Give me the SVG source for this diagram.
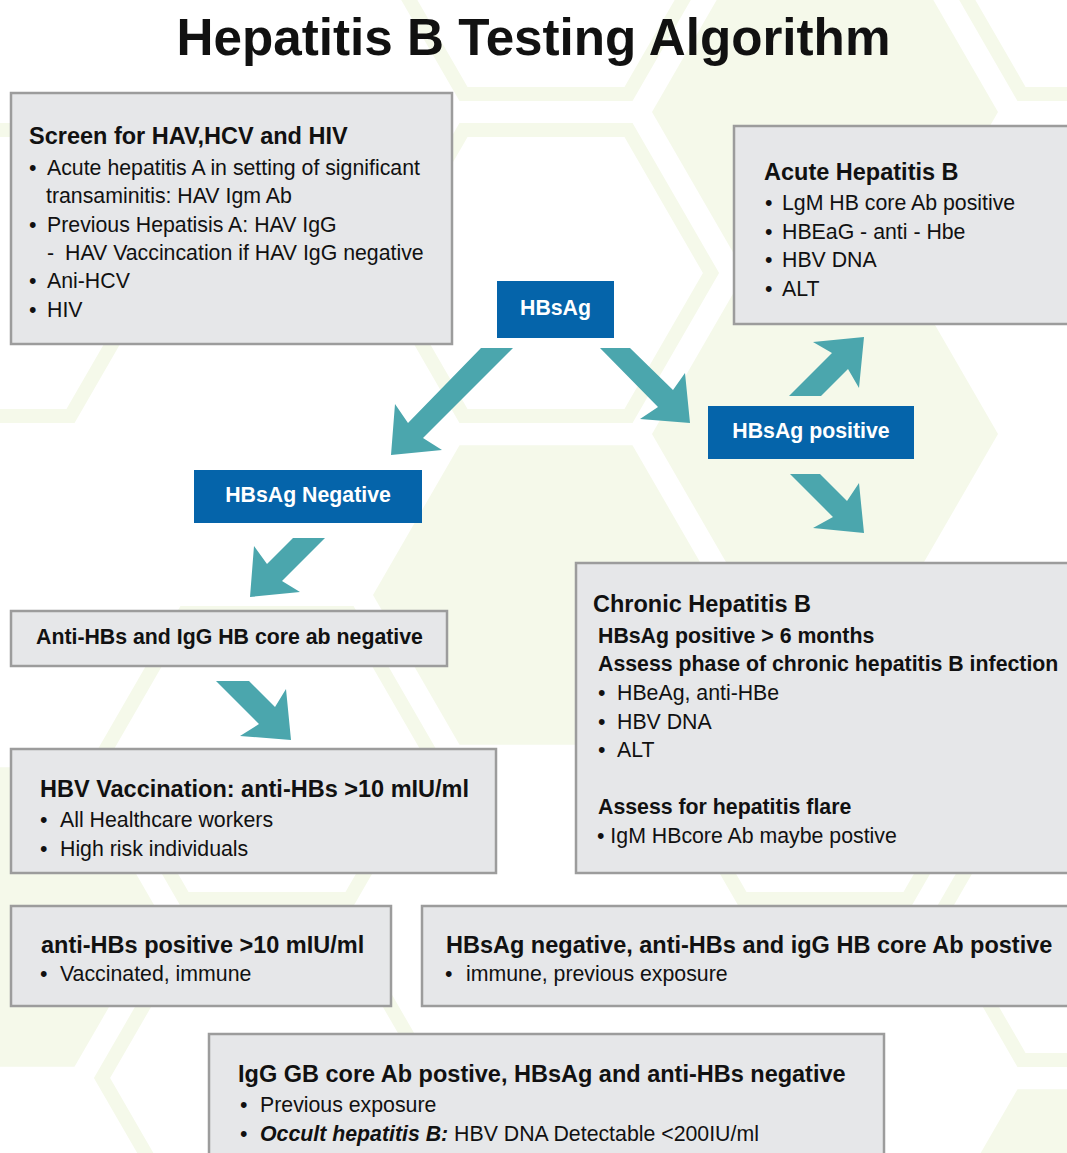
<svg xmlns="http://www.w3.org/2000/svg" xmlns:xlink="http://www.w3.org/1999/xlink" width="1067" height="1153" viewBox="0 0 1067 1153">
<style>
text{font-family:"Liberation Sans",Arial,Helvetica,sans-serif;fill:#111}
.t{font-size:23.5px;font-weight:bold}
.s{font-size:21.3px;font-weight:bold}
.b{font-size:21.3px}
.lbl{font-size:21.3px;font-weight:bold;fill:#fff;text-anchor:middle}
.box{fill:#e6e7e9;stroke:#9c9c9c;stroke-width:2.5}
.blue{fill:#0564aa}
.arr{fill:#4ba6ad}
.hf{fill:#f5f9ea}
.ho{fill:none;stroke:#f5f9ea;stroke-width:14}
</style>
<defs>
<polygon id="hexf" points="-173,0 -86.5,-149.8 86.5,-149.8 173,0 86.5,149.8 -86.5,149.8"/>
<polygon id="hexo" points="-165,0 -82.5,-142.9 82.5,-142.9 165,0 82.5,142.9 -82.5,142.9"/>
</defs>
<rect width="1067" height="1153" fill="#fff"/>
<g id="background">
<use xlink:href="#hexf" class="hf" x="825" y="112"/>
<use xlink:href="#hexf" class="hf" x="825" y="434"/>
<use xlink:href="#hexf" class="hf" x="546" y="595"/>
<use xlink:href="#hexf" class="hf" x="-12" y="917"/>
<use xlink:href="#hexf" class="hf" x="1104" y="1239"/>
<use xlink:href="#hexo" class="ho" x="546" y="-49"/>
<use xlink:href="#hexo" class="ho" x="1104" y="-49"/>
<use xlink:href="#hexo" class="ho" x="546" y="273"/>
<use xlink:href="#hexo" class="ho" x="-12" y="273"/>
<use xlink:href="#hexo" class="ho" x="267" y="756"/>
<use xlink:href="#hexo" class="ho" x="825" y="756"/>
<use xlink:href="#hexo" class="ho" x="1104" y="917"/>
<use xlink:href="#hexo" class="ho" x="267" y="1078"/>
</g>
<text x="533.5" y="55" text-anchor="middle" style="font-size:51.2px;font-weight:bold">Hepatitis B Testing Algorithm</text>
<g id="connectors">
<polygon class="arr" points="481,348 513,348 423,438 442,450 391,455 395,404 408,423"/>
<polygon class="arr" points="293,538 325,538 282,581 300,592 250,597 254,546 267,564"/>
<polygon class="arr" points="216,681 249,681 275,707 286,689 291,740 240,736 259,724"/>
<polygon class="arr" points="600,348 630,348 673,390 685,373 690,423 640,419 658,407"/>
<polygon class="arr" points="789,396 821,396 848,369 859,388 864,337 813,342 832,353"/>
<polygon class="arr" points="790,474 820,474 847,501 859,483 864,533 813,528 833,517"/>
</g>
<g id="screen">
<rect class="box" x="11" y="93" width="441" height="251"/>
<text class="t" x="29" y="144">Screen for HAV,HCV and HIV</text>
<text class="b" x="29" y="175">•</text><text class="b" x="47" y="175">Acute hepatitis A in setting of significant</text>
<text class="b" x="46" y="203">transaminitis: HAV Igm Ab</text>
<text class="b" x="29" y="232">•</text><text class="b" x="47" y="232">Previous Hepatisis A: HAV IgG</text>
<text class="b" x="47" y="260">-</text><text class="b" x="65" y="260">HAV Vaccincation if HAV IgG negative</text>
<text class="b" x="29" y="288">•</text><text class="b" x="47" y="288">Ani-HCV</text>
<text class="b" x="29" y="317">•</text><text class="b" x="47" y="317">HIV</text>
</g>
<g id="acute">
<rect class="box" x="734" y="126" width="345" height="198"/>
<text class="t" x="764" y="180">Acute Hepatitis B</text>
<text class="b" x="765" y="210">•</text><text class="b" x="782" y="210">LgM HB core Ab positive</text>
<text class="b" x="765" y="239">•</text><text class="b" x="782" y="239">HBEaG - anti - Hbe</text>
<text class="b" x="765" y="267">•</text><text class="b" x="782" y="267">HBV DNA</text>
<text class="b" x="765" y="296">•</text><text class="b" x="782" y="296">ALT</text>
</g>
<g id="hbsag">
<rect class="blue" x="497" y="281" width="117" height="57"/>
<text class="lbl" x="555.5" y="315">HBsAg</text>
</g>
<g id="hbsag-positive">
<rect class="blue" x="708" y="406" width="206" height="53"/>
<text class="lbl" x="811" y="438">HBsAg positive</text>
</g>
<g id="hbsag-negative">
<rect class="blue" x="194" y="470" width="228" height="53"/>
<text class="lbl" x="308" y="502">HBsAg Negative</text>
</g>
<g id="anti-hbs-negative">
<rect class="box" x="11" y="611" width="436" height="55"/>
<text class="s" x="36" y="644">Anti-HBs and IgG HB core ab negative</text>
</g>
<g id="hbv-vaccination">
<rect class="box" x="11" y="749" width="485" height="124"/>
<text class="t" x="40" y="797">HBV Vaccination: anti-HBs &gt;10 mIU/ml</text>
<text class="b" x="40" y="827">•</text><text class="b" x="60" y="827">All Healthcare workers</text>
<text class="b" x="40" y="856">•</text><text class="b" x="60" y="856">High risk individuals</text>
</g>
<g id="chronic">
<rect class="box" x="576" y="563" width="500" height="310"/>
<text class="t" x="593" y="612">Chronic Hepatitis B</text>
<text class="s" x="598" y="643">HBsAg positive &gt; 6 months</text>
<text class="s" x="598" y="671">Assess phase of chronic hepatitis B infection</text>
<text class="b" x="598" y="700">•</text><text class="b" x="617" y="700">HBeAg, anti-HBe</text>
<text class="b" x="598" y="729">•</text><text class="b" x="617" y="729">HBV DNA</text>
<text class="b" x="598" y="757">•</text><text class="b" x="617" y="757">ALT</text>
<text class="s" x="598" y="814">Assess for hepatitis flare</text>
<text class="b" x="597" y="843">• IgM HBcore Ab maybe postive</text>
</g>
<g id="anti-hbs-positive">
<rect class="box" x="11" y="906" width="380" height="100"/>
<text class="t" x="41" y="953">anti-HBs positive &gt;10 mIU/ml</text>
<text class="b" x="40" y="981">•</text><text class="b" x="60" y="981">Vaccinated, immune</text>
</g>
<g id="previous-exposure">
<rect class="box" x="422" y="906" width="660" height="100"/>
<text class="t" x="446" y="953">HBsAg negative, anti-HBs and igG HB core Ab postive</text>
<text class="b" x="445" y="981">•</text><text class="b" x="466" y="981">immune, previous exposure</text>
</g>
<g id="occult">
<rect class="box" x="209" y="1034" width="675" height="130"/>
<text class="t" x="238" y="1082">IgG GB core Ab postive, HBsAg and anti-HBs negative</text>
<text class="b" x="240" y="1112">•</text><text class="b" x="260" y="1112">Previous exposure</text>
<text class="b" x="240" y="1141">•</text><text class="b" x="260" y="1141"><tspan font-weight="bold" font-style="italic">Occult hepatitis B:</tspan> HBV DNA Detectable &lt;200IU/ml</text>
</g>
</svg>
